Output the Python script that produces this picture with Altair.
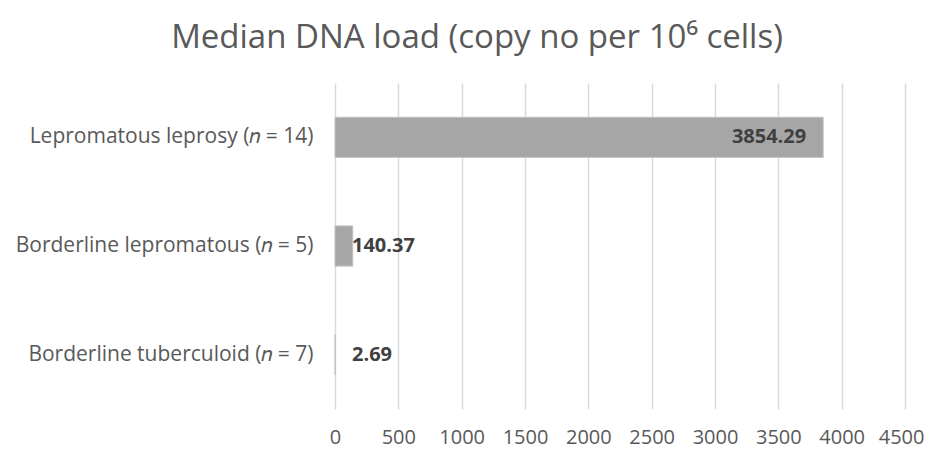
import altair as alt
import pandas as pd

categories = [
    "Lepromatous leprosy (𝑛 = 14)",
    "Borderline lepromatous (𝑛 = 5)",
    "Borderline tuberculoid (𝑛 = 7)",
]
values = [3854.29, 140.37, 2.69]
value_labels = ["3854.29", "140.37", "2.69"]
x_ticks = [0, 500, 1000, 1500, 2000, 2500, 3000, 3500, 4000, 4500]
title_text = "Median DNA load (copy no per 10⁶ cells)"

FONT = "Open Sans"
df = pd.DataFrame({"cat": categories, "value": values, "label": value_labels})

y_enc = alt.Y(
    "cat:N",
    sort=categories,
    scale=alt.Scale(paddingInner=0.63, paddingOuter=0.315),
    axis=alt.Axis(
        title=None, ticks=False, domain=False, grid=False,
        labelFontSize=21, labelColor="#595959", labelPadding=22,
        labelFont=FONT, labelLimit=500,
    ),
)
x_enc = alt.X(
    "value:Q",
    scale=alt.Scale(domain=[0, 4500], nice=False),
    axis=alt.Axis(
        values=x_ticks, format="d", title=None, ticks=False, domain=False,
        grid=True, gridColor="#d9d9d9", gridWidth=1.5, labelFontSize=20,
        labelColor="#595959", labelPadding=18, labelFont=FONT,
        labelOverlap=False, labelFlush=False,
        labelAlign={"expr": "datum.value == 4500 ? 'right' : 'center'"},
        labelOffset={"expr": "datum.value == 4500 ? 19 : 0"},
    ),
)

base = alt.Chart(df)
bars = base.mark_bar(color="#a6a6a6", stroke="#c4c4c4", strokeWidth=1).encode(x=x_enc, y=y_enc)

big = base.transform_filter("datum.value >= 1000").mark_text(
    align="right", baseline="middle", dx=-17, fontWeight="bold", fontSize=20,
    color="#404040", font=FONT,
).encode(x="value:Q", y=alt.Y("cat:N", sort=categories), text="label:N")

small = base.transform_filter("datum.value < 1000").transform_calculate(
    anchor="0"
).mark_text(
    align="left", baseline="middle", dx=17, fontWeight="bold", fontSize=20,
    color="#404040", font=FONT,
).encode(x="anchor:Q", y=alt.Y("cat:N", sort=categories), text="label:N")

chart = (
    alt.layer(bars, big, small)
    .properties(
        width=570,
        height=326,
        autosize=alt.AutoSizeParams(type="none"),
        padding={"left": 327, "top": 75, "right": 19, "bottom": 35},
        title=alt.TitleParams(
            title_text, fontSize=33, font=FONT, fontWeight="normal",
            color="#595959", anchor="middle", dx=-143, offset=28,
        ),
    )
    .configure_view(stroke=None)
)

chart.save("out.html", embed_options={"renderer": "svg", "actions": False})
